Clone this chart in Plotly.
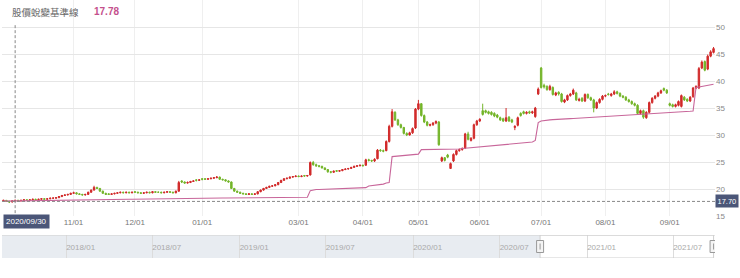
import pandas as pd
import plotly.graph_objects as go

# ---------------- data ----------------
holidays = ['2020-10-01', '2020-10-02', '2020-10-09', '2021-01-01', '2021-02-08', '2021-02-09',
            '2021-02-10', '2021-02-11', '2021-02-12', '2021-02-15', '2021-02-16', '2021-03-01',
            '2021-04-02', '2021-04-05', '2021-04-30', '2021-06-14', '2021-09-20', '2021-09-21']
dates = [d.strftime('%Y-%m-%d') for d in pd.bdate_range('2020-09-24', '2021-09-24')
         if d.strftime('%Y-%m-%d') not in holidays]

open_ = [
    17.8, 17.9, 17.7, 17.6, 17.8, 17.9, 17.8, 17.9, 18.0, 17.9,
    18.0, 18.1, 18.0, 18.1, 18.2, 18.1, 18.2, 18.3, 18.3, 18.4,
    18.6, 18.8, 18.9, 19.0, 19.2, 19.3, 19.1, 19.0, 18.9, 19.0,
    19.4, 19.8, 20.3, 20.1, 19.6, 19.2, 19.1, 19.0, 19.1, 19.2,
    19.3, 19.4, 19.3, 19.4, 19.3, 19.5, 19.4, 19.3, 19.2, 19.3,
    19.4, 19.3, 19.5, 19.4, 19.4, 19.3, 19.4, 19.5, 19.4, 19.3,
    19.6, 21.5, 21.3, 21.1, 21.2, 21.4, 21.7, 21.6, 21.9, 21.9,
    21.8, 21.9, 22.0, 22.1, 22.2, 21.8, 21.7, 21.5, 21.3, 20.1,
    19.6, 19.4, 19.2, 19.1, 19.0, 19.1, 19.0, 19.1, 19.5,
    19.8, 20.1, 20.3, 20.5, 20.6, 20.8, 21.2, 21.6, 21.9, 22.0,
    22.2, 22.3, 22.4, 22.3, 22.5, 22.4, 22.6, 24.9, 24.5, 24.3,
    24.2, 23.9, 23.6, 23.2, 23.1, 23.4, 23.3, 23.4, 23.6, 23.7,
    23.8, 24.0, 24.2, 24.3, 24.4, 24.4, 25.4, 25.3, 25.2, 25.6,
    27.2, 27.1, 27.1, 28.8, 31.6, 34.2, 32.8, 31.9, 31.4, 30.3,
    30.0, 30.4, 31.3, 34.8, 35.8, 33.6, 32.4, 31.8, 31.9, 32.2,
    32.4, 25.2, 25.8, 26.3, 23.8, 25.2, 26.4, 27.1, 27.3, 27.6,
    30.2, 29.0, 29.4, 31.9, 32.6, 34.5, 34.5, 34.3, 34.2, 34.0,
    33.7, 33.2, 33.0, 32.6, 33.3, 32.8, 31.4, 31.8, 34.0,
    34.3, 34.0, 34.3, 34.1, 33.4, 37.6, 42.4, 39.2, 39.0, 38.4,
    38.8, 37.4, 37.9, 37.6, 36.1, 36.5, 37.3, 37.6, 37.8, 36.4,
    36.8, 36.3, 37.5, 36.9, 36.5, 35.0, 36.0, 36.6, 37.2, 37.6,
    37.3, 37.6, 38.0, 37.7, 37.2, 37.0, 36.5, 36.2, 35.8, 35.5,
    34.0, 34.5, 33.2, 34.2, 36.0, 36.8, 37.2, 37.8, 38.6, 38.3,
    35.8, 35.6, 35.3, 35.5, 35.3, 37.0, 36.6, 36.3, 37.1, 38.7,
    38.7, 42.4, 43.6, 42.2, 44.6, 45.3,
]
high = [
    18.0, 17.9, 17.8, 17.9, 18.0, 18.0, 18.0, 18.1, 18.1, 18.1,
    18.2, 18.2, 18.2, 18.3, 18.3, 18.3, 18.4, 18.5, 18.5, 18.7,
    18.9, 19.0, 19.1, 19.3, 19.5, 19.4, 19.2, 19.1, 19.1, 19.5,
    19.9, 20.6, 20.4, 20.2, 19.7, 19.3, 19.2, 19.2, 19.3, 19.4,
    19.5, 19.5, 19.5, 19.5, 19.5, 19.6, 19.5, 19.4, 19.4, 19.5,
    19.5, 19.6, 19.6, 19.5, 19.5, 19.5, 19.6, 19.6, 19.5, 19.7,
    21.5, 21.6, 21.4, 21.4, 21.5, 21.6, 21.8, 21.8, 22.0, 22.0,
    22.0, 22.1, 22.2, 22.4, 22.3, 21.9, 21.8, 21.6, 21.4, 20.2,
    19.7, 19.5, 19.3, 19.2, 19.2, 19.2, 19.2, 19.6, 19.9,
    20.2, 20.4, 20.6, 20.7, 20.9, 21.3, 21.7, 22.0, 22.1, 22.3,
    22.4, 22.5, 22.5, 22.5, 22.6, 22.6, 25.1, 25.2, 24.7, 24.4,
    24.3, 24.0, 23.7, 23.3, 23.4, 23.5, 23.5, 23.7, 23.8, 23.9,
    24.1, 24.3, 24.4, 24.5, 24.5, 25.6, 25.6, 25.4, 25.7, 27.4,
    27.4, 27.3, 29.0, 31.9, 34.8, 34.4, 33.0, 32.1, 31.5, 30.5,
    30.6, 31.4, 35.0, 36.5, 35.9, 33.8, 32.6, 32.1, 32.4, 32.7,
    32.6, 26.0, 25.9, 26.5, 24.9, 26.6, 27.3, 27.5, 27.7, 30.4,
    30.6, 29.6, 32.1, 32.8, 33.1, 35.8, 34.7, 34.5, 34.4, 34.2,
    33.9, 33.4, 33.2, 35.0, 33.5, 33.0, 31.8, 33.4, 34.2,
    34.5, 34.4, 34.5, 34.5, 35.2, 38.8, 42.6, 39.5, 39.2, 39.3,
    39.0, 38.0, 38.1, 37.8, 36.7, 37.5, 37.8, 38.6, 38.0, 36.9,
    37.0, 37.7, 37.7, 37.1, 36.7, 36.2, 36.8, 37.4, 37.5, 37.8,
    37.8, 38.3, 38.2, 37.9, 37.4, 37.2, 36.7, 36.4, 36.0, 35.7,
    34.7, 34.7, 34.4, 36.2, 37.0, 37.4, 38.0, 38.4, 38.8, 38.5,
    36.0, 35.8, 35.8, 36.4, 37.5, 37.2, 36.8, 37.2, 38.9, 39.2,
    42.6, 43.8, 43.8, 44.9, 45.7, 46.3,
]
low = [
    17.7, 17.6, 17.4, 17.5, 17.7, 17.7, 17.7, 17.8, 17.8, 17.8,
    17.9, 17.9, 17.9, 18.0, 18.0, 18.0, 18.1, 18.2, 18.2, 18.3,
    18.5, 18.7, 18.8, 18.9, 19.1, 19.0, 18.9, 18.8, 18.8, 18.9,
    19.3, 19.7, 20.0, 19.5, 19.1, 18.9, 18.9, 18.9, 19.0, 19.1,
    19.2, 19.2, 19.2, 19.2, 19.2, 19.3, 19.2, 19.1, 19.1, 19.2,
    19.2, 19.2, 19.3, 19.3, 19.2, 19.2, 19.3, 19.3, 19.2, 19.2,
    19.5, 21.1, 21.0, 21.0, 21.1, 21.3, 21.4, 21.5, 21.6, 21.7,
    21.7, 21.8, 21.9, 22.0, 21.7, 21.6, 21.4, 21.2, 20.0, 19.5,
    19.3, 19.1, 19.0, 18.9, 18.9, 18.9, 18.9, 19.0, 19.4,
    19.7, 20.0, 20.2, 20.4, 20.5, 20.7, 21.1, 21.5, 21.8, 21.9,
    22.1, 22.2, 22.2, 22.2, 22.3, 22.3, 22.5, 24.3, 24.1, 24.0,
    23.8, 23.5, 23.0, 22.9, 23.0, 23.2, 23.2, 23.3, 23.5, 23.6,
    23.7, 23.9, 24.1, 24.2, 24.2, 24.3, 25.1, 25.0, 25.0, 25.5,
    26.9, 26.8, 27.0, 28.6, 31.4, 32.6, 31.7, 31.2, 30.1, 29.8,
    29.9, 30.2, 31.1, 34.6, 33.4, 32.2, 31.6, 31.6, 31.7, 32.0,
    28.0, 25.0, 25.1, 25.7, 23.7, 25.0, 26.2, 26.9, 27.1, 27.4,
    29.0, 28.8, 29.2, 31.7, 32.4, 33.6, 34.0, 33.8, 33.6, 33.3,
    33.1, 32.6, 32.4, 32.4, 32.4, 32.2, 30.9, 31.6, 33.4,
    33.8, 33.8, 33.9, 33.9, 33.2, 37.4, 38.6, 38.6, 38.2, 38.2,
    37.3, 37.2, 37.3, 36.0, 35.9, 36.3, 37.1, 37.4, 36.3, 36.2,
    36.1, 36.1, 36.7, 36.3, 34.2, 34.8, 35.8, 36.4, 37.0, 37.3,
    37.1, 37.4, 37.5, 37.0, 36.8, 36.3, 36.0, 35.6, 35.3, 33.8,
    33.8, 33.0, 33.0, 34.0, 35.8, 36.6, 37.0, 37.6, 38.1, 37.6,
    35.3, 35.1, 35.1, 35.3, 35.1, 36.3, 36.1, 36.1, 36.9, 38.5,
    38.5, 42.2, 41.8, 42.0, 44.4, 45.1,
]
close = [
    17.9, 17.7, 17.6, 17.8, 17.9, 17.8, 17.9, 18.0, 17.9, 18.0,
    18.1, 18.0, 18.1, 18.2, 18.1, 18.2, 18.3, 18.3, 18.4, 18.6,
    18.8, 18.9, 19.0, 19.2, 19.3, 19.1, 19.0, 18.9, 19.0, 19.4,
    19.8, 20.3, 20.1, 19.6, 19.2, 19.0, 19.0, 19.1, 19.2, 19.3,
    19.4, 19.3, 19.4, 19.3, 19.4, 19.4, 19.3, 19.2, 19.3, 19.4,
    19.3, 19.5, 19.4, 19.4, 19.3, 19.4, 19.5, 19.4, 19.3, 19.6,
    21.2, 21.3, 21.1, 21.2, 21.4, 21.5, 21.6, 21.7, 21.8, 21.8,
    21.9, 22.0, 22.1, 22.2, 21.8, 21.7, 21.5, 21.3, 20.1, 19.6,
    19.4, 19.2, 19.1, 19.0, 19.1, 19.0, 19.1, 19.5, 19.8,
    20.1, 20.3, 20.5, 20.6, 20.8, 21.2, 21.6, 21.9, 22.0, 22.2,
    22.3, 22.4, 22.3, 22.4, 22.4, 22.5, 24.9, 24.5, 24.3, 24.2,
    23.9, 23.6, 23.2, 23.1, 23.3, 23.3, 23.4, 23.6, 23.7, 23.8,
    24.0, 24.2, 24.3, 24.4, 24.3, 25.4, 25.3, 25.2, 25.5, 27.2,
    27.1, 27.0, 28.8, 31.6, 34.3, 32.8, 31.9, 31.4, 30.3, 30.0,
    30.4, 31.2, 34.8, 35.8, 33.6, 32.4, 31.8, 31.9, 32.2, 32.5,
    28.2, 25.8, 25.3, 25.9, 24.7, 26.4, 27.1, 27.3, 27.5, 30.2,
    29.2, 29.4, 31.9, 32.6, 32.9, 33.8, 34.2, 34.0, 33.8, 33.5,
    33.3, 32.8, 32.6, 33.2, 32.6, 32.4, 31.6, 33.2, 33.6,
    34.0, 34.2, 34.1, 34.3, 35.0, 38.5, 38.8, 38.9, 38.4, 39.0,
    37.5, 37.8, 37.6, 36.2, 36.5, 37.3, 37.6, 38.3, 36.5, 36.6,
    36.3, 37.5, 36.9, 36.5, 35.0, 36.0, 36.6, 37.2, 37.3, 37.5,
    37.6, 38.0, 37.7, 37.2, 37.0, 36.5, 36.2, 35.8, 35.5, 34.0,
    34.5, 33.3, 34.2, 36.0, 36.8, 37.2, 37.8, 38.2, 38.3, 37.8,
    35.5, 35.3, 35.6, 36.2, 37.3, 36.5, 36.3, 37.0, 38.7, 39.0,
    42.3, 43.5, 42.0, 44.6, 45.4, 46.0,
]
baseline = [
    17.76, 17.77, 17.77, 17.78, 17.78, 17.79, 17.80, 17.80, 17.81, 17.82,
    17.82, 17.83, 17.84, 17.85, 17.85, 17.86, 17.87, 17.88, 17.88, 17.89,
    17.90, 17.91, 17.92, 17.93, 17.94, 17.95, 17.96, 17.97, 17.98, 17.99,
    18.00, 18.01, 18.02, 18.03, 18.04, 18.05, 18.05, 18.06, 18.07, 18.08,
    18.08, 18.09, 18.10, 18.10, 18.11, 18.12, 18.12, 18.13, 18.14, 18.14,
    18.15, 18.16, 18.16, 18.17, 18.18, 18.18, 18.19, 18.20, 18.20, 18.21,
    18.22, 18.22, 18.23, 18.24, 18.24, 18.25, 18.26, 18.26, 18.27, 18.28,
    18.28, 18.29, 18.30, 18.30, 18.31, 18.32, 18.32, 18.33, 18.34, 18.34,
    18.35, 18.35, 18.36, 18.36, 18.37, 18.38, 18.38, 18.39, 18.39,
    18.40, 18.40, 18.41, 18.41, 18.42, 18.42, 18.43, 18.43, 18.44, 18.44,
    18.45, 18.45, 18.46, 18.46, 18.47, 18.47, 19.70, 19.85, 19.90, 19.92,
    19.94, 19.96, 19.98, 20.00, 20.02, 20.04, 20.06, 20.08, 20.10, 20.12,
    20.14, 20.16, 20.18, 20.20, 20.22, 20.25, 20.55, 20.60, 20.65, 20.70,
    20.80, 20.90, 21.10, 21.20, 26.00, 26.05, 26.10, 26.15, 26.20, 26.25,
    26.30, 26.35, 26.40, 26.45, 27.30, 27.30, 27.30, 27.30, 27.30, 27.30,
    27.30, 27.30, 27.30, 27.30, 27.30, 27.30, 27.35, 27.40, 27.50, 27.55,
    27.60, 27.65, 27.70, 27.75, 27.80, 27.85, 27.88, 27.90, 27.92, 27.95,
    27.98, 28.05, 28.10, 28.20, 28.25, 28.30, 28.35, 28.40, 28.45,
    28.50, 28.55, 28.60, 28.70, 29.00, 32.30, 32.60, 32.70, 32.75, 32.80,
    32.85, 32.90, 32.92, 32.95, 32.98, 33.00, 33.03, 33.06, 33.09, 33.12,
    33.15, 33.18, 33.21, 33.24, 33.27, 33.30, 33.33, 33.36, 33.39, 33.42,
    33.45, 33.48, 33.51, 33.54, 33.57, 33.60, 33.63, 33.66, 33.69, 33.72,
    33.75, 33.78, 33.81, 33.84, 33.87, 33.90, 33.93, 33.96, 33.99, 34.02,
    34.05, 34.10, 34.15, 34.20, 34.25, 34.30, 34.35, 34.40, 34.45, 38.80,
    38.90, 39.00, 39.10, 39.20, 39.30, 39.40,
]

tick_months = ['2020-11', '2020-12', '2021-01', '2021-03', '2021-04', '2021-05',
               '2021-06', '2021-07', '2021-08', '2021-09']
tick_labels = ['11/01', '12/01', '01/01', '03/01', '04/01', '05/01', '06/01', '07/01', '08/01', '09/01']
y_ticks = [15, 20, 25, 30, 35, 40, 45, 50, 55]

nav_range = ['2017-08-19', '2021-09-27']
nav_ticks = ['2018-01-01', '2018-07-01', '2019-01-01', '2019-07-01',
             '2020-01-01', '2020-07-01', '2021-01-01', '2021-07-01']
nav_labels = ['2018/01', '2018/07', '2019/01', '2019/07', '2020/01', '2020/07', '2021/01', '2021/07']

legend_name = '股價蛻變基準線'
legend_value = '17.78'
cross_date = '2020-09-30'
cross_label = '2020/09/30'
cross_price = 17.70

# ---------------- figure ----------------
n = min(len(dates), len(close))
dates = dates[:n]
tick_vals = [next(d for d in dates if d.startswith(m)) for m in tick_months]

RED = '#d12a2a'
GREEN = '#74b52a'
PINK = '#c8669a'
BOX = '#4b5678'
NUMFONT = 'Liberation Sans, Arial, sans-serif'

fig = go.Figure()
fig.add_trace(go.Candlestick(
    x=dates, open=open_[:n], high=high[:n], low=low[:n], close=close[:n],
    increasing=dict(line=dict(color=RED, width=1), fillcolor=RED),
    decreasing=dict(line=dict(color=GREEN, width=1), fillcolor=GREEN),
    whiskerwidth=0, hoverinfo='skip', showlegend=False, xaxis='x', yaxis='y'))
fig.add_trace(go.Scatter(
    x=dates, y=baseline[:n], mode='lines', line=dict(color=PINK, width=1.1),
    hoverinfo='skip', showlegend=False, xaxis='x', yaxis='y'))
# invisible trace for the navigator axes
fig.add_trace(go.Scatter(x=nav_range, y=[0.5, 0.5], mode='lines', line=dict(width=0),
                         hoverinfo='skip', showlegend=False, xaxis='x2', yaxis='y2'))

PLOT_H = 258.0
main_bottom = (PLOT_H - 216) / PLOT_H
nav_top = (PLOT_H - 235) / PLOT_H

fig.update_layout(
    width=740, height=278,
    margin=dict(l=2, r=25, t=0, b=20),
    paper_bgcolor='white', plot_bgcolor='white',
    font=dict(family=NUMFONT, size=8, color='#777'),
    xaxis=dict(type='category', range=[-0.5, n - 0.5], domain=[0, 1], anchor='y',
               tickmode='array', tickvals=tick_vals, ticktext=tick_labels,
               showgrid=True, gridcolor='#efefef', gridwidth=1, zeroline=False,
               showline=False, ticks='', tickfont=dict(size=8, color='#777'),
               rangeslider=dict(visible=False), fixedrange=True),
    yaxis=dict(domain=[main_bottom, 1], range=[15, 55], side='right', anchor='x',
               tickmode='array', tickvals=y_ticks, showgrid=True, gridcolor='#e6e6e6',
               zeroline=False, showline=False, ticks='',
               tickfont=dict(size=8, color='#888'), fixedrange=True),
    xaxis2=dict(type='date', range=nav_range, domain=[0, 1], anchor='y2',
                tickmode='array', tickvals=nav_ticks, ticktext=nav_labels,
                ticklabelposition='inside right', showgrid=True, gridcolor='#dcdcdc',
                zeroline=False, showline=False, ticks='',
                tickfont=dict(size=8, color='#aaa'), fixedrange=True),
    yaxis2=dict(domain=[0, nav_top], range=[0, 1], anchor='x2', visible=False, fixedrange=True),
)

shapes = []
# navigator mask (unselected region)
shapes.append(dict(type='rect', xref='x2', yref='y2', x0=nav_range[0], x1=dates[0], y0=0, y1=1,
                   fillcolor='#e8ecf1', line=dict(width=0), layer='below'))
# navigator outline top line
shapes.append(dict(type='line', xref='paper', yref='y2', x0=0, x1=1, y0=1, y1=1,
                   line=dict(color='#d0d0d0', width=1)))
# selected window outline
shapes.append(dict(type='rect', xref='x2', yref='y2', x0=dates[0], x1=dates[-1], y0=0, y1=1,
                   fillcolor='rgba(0,0,0,0)', line=dict(color='#cfcfcf', width=1)))
# handles
for hx in (dates[0], dates[-1]):
    shapes.append(dict(type='rect', xref='x2', yref='y2', xsizemode='pixel', xanchor=hx,
                       x0=-3.5, x1=3.5, ysizemode='pixel', yanchor=0.5, y0=-6, y1=6,
                       fillcolor='#f4f4f4', line=dict(color='#999', width=1)))
    shapes.append(dict(type='line', xref='x2', yref='y2', xsizemode='pixel', xanchor=hx,
                       x0=0, x1=0, ysizemode='pixel', yanchor=0.5, y0=-3, y1=3,
                       line=dict(color='#999', width=1)))
# crosshair
shapes.append(dict(type='line', xref='x', yref='y', x0=cross_date, x1=cross_date, y0=14.6, y1=50.6,
                   line=dict(color='#888', width=1, dash='3px,2px')))
shapes.append(dict(type='line', xref='paper', yref='y', x0=0, x1=1, y0=cross_price, y1=cross_price,
                   line=dict(color='#888', width=1, dash='3px,2px')))
fig.update_layout(shapes=shapes)

annotations = [
    dict(xref='paper', yref='paper', x=8 / 713, y=(PLOT_H - 12) / PLOT_H, xanchor='left', yanchor='middle',
         text=legend_name, showarrow=False,
         font=dict(family='Noto Sans CJK TC, Noto Sans CJK SC', size=9.5, color='#666')),
    dict(xref='paper', yref='paper', x=90 / 713, y=(PLOT_H - 12) / PLOT_H, xanchor='left', yanchor='middle',
         text='<b>' + legend_value + '</b>', showarrow=False,
         font=dict(family=NUMFONT, size=10, color='#c4508c')),
    dict(xref='paper', yref='y', x=1, y=cross_price, xanchor='left', yanchor='middle', xshift=0,
         text='%.2f' % cross_price, showarrow=False, bgcolor=BOX, borderpad=1.5,
         font=dict(family=NUMFONT, size=7.5, color='white')),
    dict(xref='paper', yref='paper', x=1 / 713, y=(PLOT_H - 221) / PLOT_H, xanchor='left', yanchor='middle',
         text=cross_label, showarrow=False, bgcolor=BOX, borderpad=2,
         font=dict(family=NUMFONT, size=8, color='white')),
]
fig.update_layout(annotations=annotations)

fig.write_html('out.html', config={'displayModeBar': False})
